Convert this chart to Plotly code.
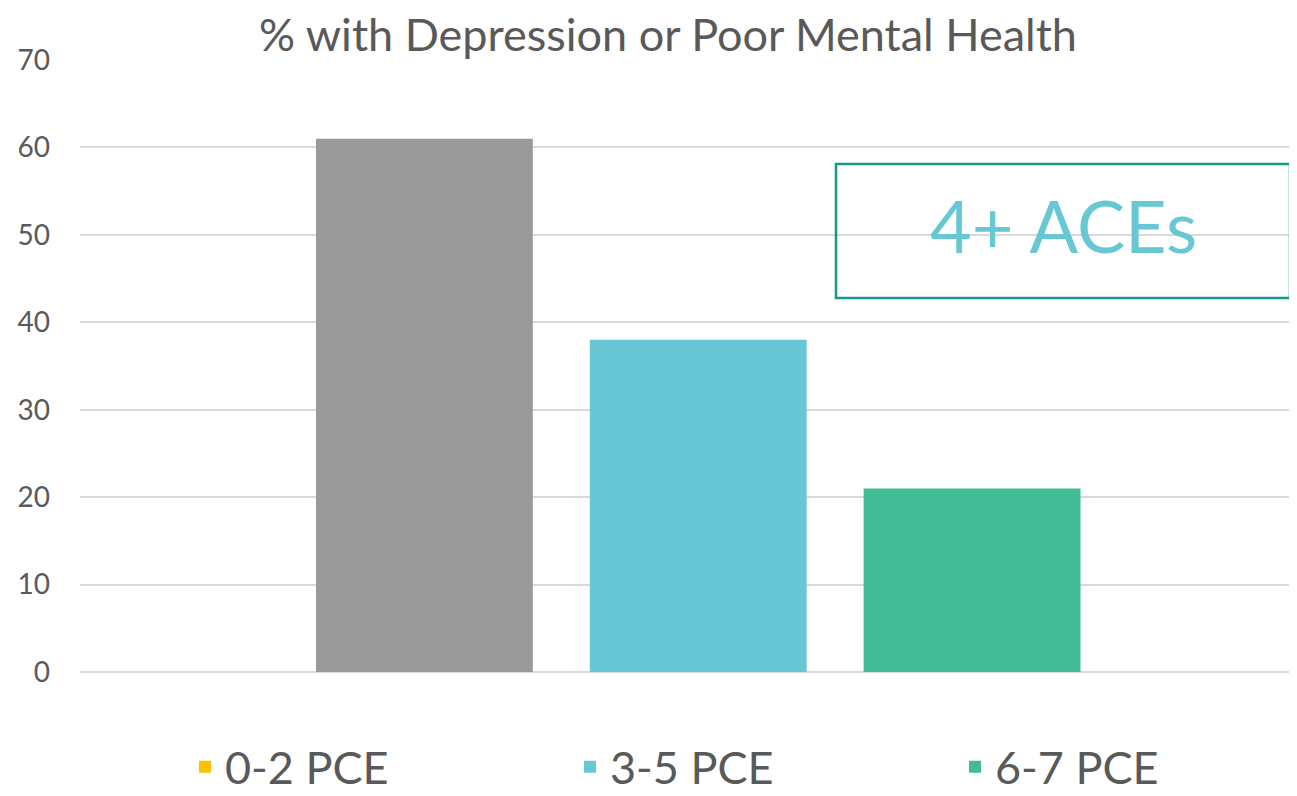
import plotly.graph_objects as go

group_label = ["4+ ACEs"]
series_names = ["0-2 PCE", "3-5 PCE", "6-7 PCE"]
series_values = [61, 38, 21]
bar_colors = ["#9A9A9A", "#67C7D4", "#43BB97"]
legend_colors = ["#FFC000", "#67C7D4", "#43BB97"]
y_ticks = [0, 10, 20, 30, 40, 50, 60, 70]

FONT = "Lato"
TXT = "#595959"

# the page body has an 8px margin; the figure is sized to end at the window edge
W, H = 1289, 788
PL, PT, PB = 72, 52, 124          # plot area margins (figure px)
PW, PH = W - PL, H - PT - PB      # 1217 x 612

fig = go.Figure()
for i, (name, val) in enumerate(zip(series_names, series_values)):
    same = bar_colors[i] == legend_colors[i]
    fig.add_trace(go.Bar(
        x=group_label, y=[val], name=name,
        marker=dict(color=bar_colors[i], line=dict(width=0)),
        offsetgroup=str(i), showlegend=same, legendrank=i,
        hoverinfo="y+name",
    ))
    if not same:
        fig.add_trace(go.Bar(
            x=group_label, y=[None], name=name,
            marker=dict(color=legend_colors[i], line=dict(width=0)),
            offsetgroup=str(i), showlegend=True, legendrank=i,
        ))

def px_x(page_x):
    return (page_x - 8 - PL) / PW

def px_y(page_y):
    return (PT + PH - (page_y - 8)) / PH

fig.update_layout(
    width=W, height=H,
    paper_bgcolor="white", plot_bgcolor="white",
    margin=dict(l=PL, r=0, t=PT, b=PB, autoexpand=False),
    barmode="group", bargap=0.325, bargroupgap=0.208,
    title=dict(text="% with Depression or Poor Mental Health",
               font=dict(family=FONT, size=45, color=TXT),
               x=660/W, xanchor="center", xref="container",
               y=1-27/H, yanchor="middle", yref="container"),
    font=dict(family=FONT, color=TXT),
    showlegend=True,
    legend=dict(orientation="h", x=177/W, xanchor="left", xref="container",
                y=px_y(803), yanchor="bottom", yref="paper",
                entrywidth=340, entrywidthmode="pixels",
                font=dict(family=FONT, size=45, color=TXT),
                traceorder="normal", bgcolor="rgba(0,0,0,0)"),
    xaxis=dict(showticklabels=False, showgrid=False, zeroline=False,
               showline=False, ticks="", range=[-0.508, 0.492]),
    yaxis=dict(range=[0, 70], tickvals=y_ticks, showgrid=True,
               gridcolor="#D9D9D9", gridwidth=2, zeroline=True,
               zerolinecolor="#D9D9D9", zerolinewidth=2, showline=False,
               ticks="", ticklabelstandoff=29,
               tickfont=dict(family=FONT, size=28, color=TXT)),
    shapes=[dict(type="rect", xref="paper", yref="paper",
                 x0=px_x(836), x1=px_x(1290),
                 y0=px_y(298), y1=px_y(164),
                 line=dict(color="#17998A", width=2.5),
                 fillcolor="rgba(0,0,0,0)")],
    annotations=[dict(text="4+ ACEs", xref="paper", yref="paper",
                      x=px_x(1063), y=px_y(225),
                      xanchor="center", yanchor="middle", showarrow=False,
                      font=dict(family=FONT, size=72, color="#67C7D4"))],
)

fig.write_html("out.html")
